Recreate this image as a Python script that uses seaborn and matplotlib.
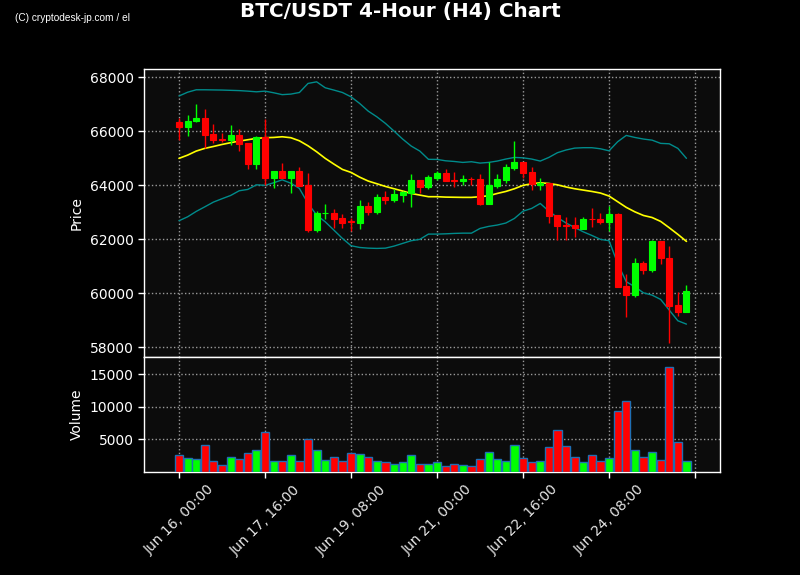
#!/usr/bin/env python3

import numpy as np
import pandas as pd
import seaborn as sns
import matplotlib.pyplot as plt

# === Data (4-hour candles) ===
start_time = "2024-06-16 00:00"
n_candles = 60

opens = [66330, 66160, 66360, 66490, 65890, 65705, 65680, 65850, 65555, 64780,
         65780, 64270, 64520, 64270, 64520, 64000, 62335, 62950, 62960, 62780,
         62655, 62595, 63220, 63000, 63555, 63445, 63630, 63690, 64185, 63935,
         64260, 64445, 64190, 64160, 64230, 64220, 63305, 63965, 64185, 64630,
         64850, 64480, 63990, 64085, 62900, 62510, 62505, 62385, 62745, 62740,
         62640, 62925, 60250, 59935, 61100, 60865, 61915, 61285, 59545, 59305]
highs = [66470, 66590, 66990, 66800, 66250, 65935, 66210, 66060, 65560, 65825,
         66445, 64520, 64805, 64520, 64665, 64445, 63035, 63285, 63100, 62915,
         62790, 63435, 63385, 63655, 63765, 63865, 63780, 64400, 64185, 64360,
         64520, 64580, 64470, 64360, 64300, 64405, 64840, 64400, 64765, 65615,
         64850, 64655, 64270, 64085, 62900, 62825, 62825, 62800, 63135, 62965,
         63220, 62975, 60695, 61285, 61185, 61950, 61915, 61755, 60050, 60285]
lows = [65670, 65815, 66345, 65380, 65545, 65580, 65470, 65250, 64580, 64580,
        64000, 63900, 64270, 63695, 63975, 62270, 62270, 62730, 62395, 62395,
        62295, 62360, 62880, 62935, 63305, 63385, 63385, 63175, 63715, 63840,
        64190, 64160, 63915, 63990, 63990, 63260, 63305, 63880, 64065, 64565,
        64270, 63815, 63815, 62580, 61965, 61965, 62085, 62370, 62455, 62545,
        62305, 60235, 59100, 59840, 60705, 60790, 61075, 58135, 59150, 59305]
closes = [66160, 66370, 66490, 65865, 65680, 65660, 65850, 65530, 64780, 65780,
          64270, 64520, 64270, 64520, 63975, 62335, 62960, 62975, 62750, 62595,
          62620, 63220, 63000, 63555, 63445, 63665, 63730, 64185, 63935, 64295,
          64445, 64160, 64170, 64235, 64210, 63305, 63990, 64210, 64665, 64850,
          64445, 64035, 64085, 62850, 62495, 62495, 62395, 62740, 62735, 62630,
          62925, 60235, 59935, 61100, 60865, 61915, 61285, 59530, 59305, 60075]
volumes = [2680, 2220, 2070, 4190, 1770, 1010, 2370, 2070, 2980, 3430,
           6160, 1620, 1620, 2680, 1770, 5100, 3430, 1920, 2370, 1620,
           2980, 2830, 2370, 1620, 1470, 1310, 1470, 2680, 1160, 1160,
           1470, 860, 1160, 1010, 860, 2070, 3130, 2070, 1770, 4190,
           2220, 1470, 1770, 3890, 6470, 4040, 2370, 1470, 2680, 1770,
           2220, 9340, 10860, 3430, 2370, 3130, 1920, 16010, 4650, 1620]

# Bollinger bands (20, 2)
bb_upper = [67300, 67440, 67530, 67530, 67525, 67520, 67510, 67500, 67480, 67455,
            67480, 67420, 67350, 67370, 67430, 67765, 67825, 67605, 67520, 67430,
            67270, 67025, 66740, 66530, 66285, 66000, 65705, 65445, 65260, 64955,
            64950, 64900, 64875, 64840, 64865, 64815, 64840, 64890, 64965, 65025,
            65010, 64965, 64890, 65025, 65200, 65300, 65370, 65385, 65385, 65345,
            65270, 65605, 65840, 65765, 65705, 65665, 65545, 65530, 65360, 64990]
bb_mid = [64990, 65110, 65260, 65360, 65430, 65505, 65570, 65630, 65680, 65730,
          65755, 65765, 65790, 65755, 65640, 65455, 65235, 64990, 64780, 64580,
          64470, 64295, 64150, 64050, 63950, 63865, 63780, 63690, 63630, 63570,
          63570, 63555, 63550, 63545, 63545, 63570, 63605, 63690, 63765, 63865,
          63990, 64050, 64085, 64060, 64010, 63930, 63865, 63815, 63765, 63705,
          63595, 63385, 63175, 63010, 62875, 62800, 62655, 62420, 62175, 61915]
bb_lower = [62680, 62825, 63025, 63195, 63370, 63495, 63615, 63790, 63840, 64010,
            63990, 64085, 64195, 64070, 63875, 63320, 62890, 62640, 62335, 62025,
            61755, 61690, 61665, 61655, 61665, 61740, 61840, 61940, 61990, 62185,
            62185, 62195, 62210, 62220, 62220, 62395, 62470, 62520, 62595, 62765,
            63035, 63135, 63320, 63035, 62800, 62595, 62430, 62270, 62135, 61990,
            61940, 61100, 60420, 60235, 60010, 59925, 59765, 59370, 58975, 58850]


def main():
    times = pd.date_range(start_time, periods=n_candles, freq="4h")
    df = pd.DataFrame({
        "idx": np.arange(n_candles),
        "open": opens, "high": highs, "low": lows, "close": closes,
        "volume": volumes,
        "upper": bb_upper, "mid": bb_mid, "lower": bb_lower,
    })
    up = df["close"] >= df["open"]
    colors = np.where(up, "#00ff00", "#ff0000")

    # === Theme ===
    sns.set_theme(style="dark", rc={
        "figure.facecolor": "black",
        "axes.facecolor": "#0c0c0c",
        "axes.edgecolor": "white",
        "axes.labelcolor": "white",
        "xtick.color": "white",
        "ytick.color": "white",
        "text.color": "white",
        "grid.color": "#9a9a9a",
        "grid.linestyle": ":",
        "grid.linewidth": 1.0,
        "xtick.bottom": True,
        "ytick.left": True,
    })
    plt.rcParams["font.family"] = ["DejaVu Sans"]

    fig = plt.figure(figsize=(8, 5.75), dpi=100)
    ax_p = fig.add_axes([0.18, 0.379, 0.72, 0.501])
    ax_v = fig.add_axes([0.18, 0.179, 0.72, 0.200], sharex=ax_p)

    # --- Candles ---
    ax_p.vlines(df["idx"], df["low"], df["high"], colors=colors, linewidth=1.0, zorder=3)
    body_lo = np.minimum(df["open"], df["close"])
    body_h = np.abs(df["close"] - df["open"])
    ax_p.bar(df["idx"], body_h, bottom=body_lo, width=0.7, color=colors,
             edgecolor=colors, linewidth=0.8, zorder=4)

    # --- Bollinger bands ---
    sns.lineplot(x="idx", y="upper", data=df, ax=ax_p, color="#008b8b", linewidth=1.0, zorder=2)
    sns.lineplot(x="idx", y="lower", data=df, ax=ax_p, color="#008b8b", linewidth=1.0, zorder=2)
    sns.lineplot(x="idx", y="mid", data=df, ax=ax_p, color="#ffff00", linewidth=1.2, zorder=2)

    # --- Volume ---
    ax_v.bar(df["idx"], df["volume"], width=0.95, color=colors,
             edgecolor="#1f6fb4", linewidth=1.0, zorder=3)

    # === Axes styling ===
    ax_p.set_xlim(-4.07, 62.9)
    ax_p.set_ylim(57630, 68300)
    ax_v.set_ylim(0, 17600)
    ax_p.set_yticks([58000, 60000, 62000, 64000, 66000, 68000])
    ax_v.set_yticks([5000, 10000, 15000])

    tick_pos = list(range(0, 61, 10))
    tick_lbl = [times[i].strftime("%b %d, %H:%M") if i < n_candles else "" for i in tick_pos]
    ax_v.set_xticks(tick_pos)
    ax_v.set_xticklabels(tick_lbl, rotation=45, ha="center", color="#e6e6e6")
    ax_p.tick_params(axis="x", labelbottom=False)

    for ax in (ax_p, ax_v):
        ax.grid(True, which="major", axis="both")
        ax.set_axisbelow(True)
        ax.tick_params(axis="both", labelsize=10, length=4, width=1, colors="white")
        for s in ax.spines.values():
            s.set_color("white")
            s.set_linewidth(1.0)
    ax_v.tick_params(axis="x", labelcolor="#e6e6e6")

    ax_p.set_ylabel("Price", fontsize=10)
    ax_v.set_ylabel("Volume", fontsize=10)
    ax_p.set_xlabel("")
    ax_v.set_xlabel("")

    fig.suptitle("BTC/USDT 4-Hour (H4) Chart", fontsize=14.4, fontweight="bold",
                 color="white", y=0.997)
    fig.text(0.019, 0.963, "(C) cryptodesk-jp.com / el", fontsize=7.3, color="white",
             family=["Liberation Sans Narrow", "Liberation Sans", "DejaVu Sans"])

    fig.savefig("out.png", dpi=100, facecolor="black")
    plt.close(fig)


if __name__ == "__main__":
    main()
